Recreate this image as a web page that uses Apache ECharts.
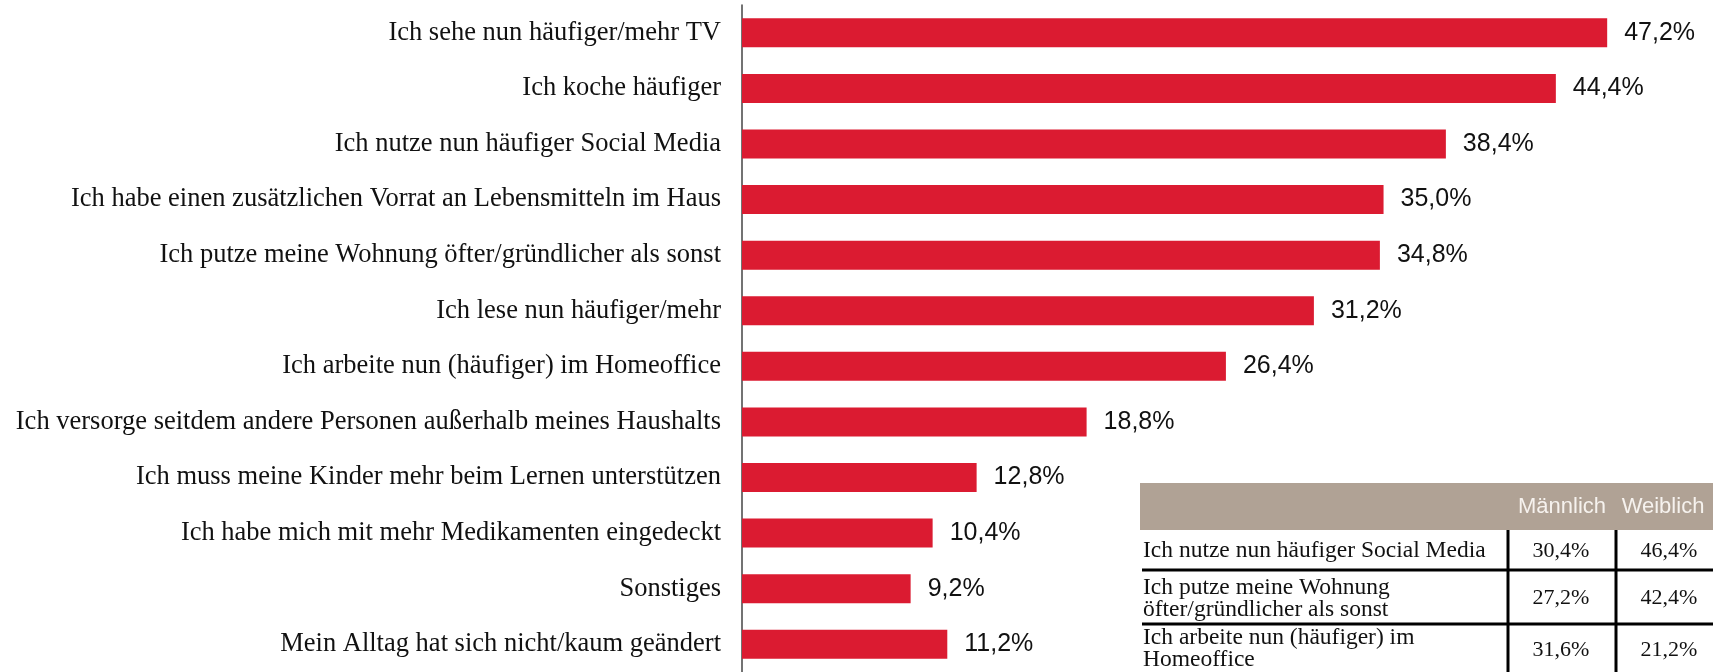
<!DOCTYPE html>
<html>
<head>
<meta charset="utf-8">
<script src="https://cdn.jsdelivr.net/npm/echarts@6/dist/echarts.min.js"></script>
<style>
  html, body { margin: 0; padding: 0; background: #fff; }
  #main { width: 1713px; height: 672px; }
</style>
</head>
<body>
<div id="main"></div>
<script>
// Balkendiagramm: Veränderungen im Alltag
var categories = [
  'Ich sehe nun häufiger/mehr TV',
  'Ich koche häufiger',
  'Ich nutze nun häufiger Social Media',
  'Ich habe einen zusätzlichen Vorrat an Lebensmitteln im Haus',
  'Ich putze meine Wohnung öfter/gründlicher als sonst',
  'Ich lese nun häufiger/mehr',
  'Ich arbeite nun (häufiger) im Homeoffice',
  'Ich versorge seitdem andere Personen außerhalb meines Haushalts',
  'Ich muss meine Kinder mehr beim Lernen unterstützen',
  'Ich habe mich mit mehr Medikamenten eingedeckt',
  'Sonstiges',
  'Mein Alltag hat sich nicht/kaum geändert'
];
var values = [47.2, 44.4, 38.4, 35.0, 34.8, 31.2, 26.4, 18.8, 12.8, 10.4, 9.2, 11.2];

// Tabelle Männlich / Weiblich
var tableHeader = ['Männlich', 'Weiblich'];
var tableRows = [
  'Ich nutze nun häufiger Social Media',
  'Ich putze meine Wohnung\nöfter/gründlicher als sonst',
  'Ich arbeite nun (häufiger) im\nHomeoffice'
];
var maleValues = [30.4, 27.2, 31.6];
var femaleValues = [46.4, 42.4, 21.2];

function fmt(v) {
  return v.toFixed(1).replace('.', ',') + '%';
}

var serif = '"Liberation Serif", "DejaVu Serif", serif';
var sans = '"Liberation Sans", Arial, sans-serif';

// Tabelle als graphic-Elemente
var graphics = [];
graphics.push({
  type: 'rect', shape: { x: 1140, y: 483, width: 573, height: 47 },
  style: { fill: '#B0A295' }, silent: true
});
var headX = [1562, 1663];
for (let i = 0; i < tableHeader.length; i++) {
  graphics.push({
    type: 'text',
    style: {
      text: tableHeader[i], x: headX[i], y: 507,
      fill: '#F6F2EE', font: '22px ' + sans,
      textAlign: 'center', textVerticalAlign: 'middle'
    }
  });
}
var rowY = [551, 599, 649];
var valY = [551, 598, 650];
for (let i = 0; i < tableRows.length; i++) {
  graphics.push({
    type: 'text',
    style: {
      text: tableRows[i], x: 1143, y: rowY[i],
      fill: '#111', font: '23.5px ' + serif, lineHeight: 22,
      textAlign: 'left', textVerticalAlign: 'middle'
    }
  });
  graphics.push({
    type: 'text',
    style: {
      text: fmt(maleValues[i]), x: 1561, y: valY[i],
      fill: '#111', font: '22px ' + serif,
      textAlign: 'center', textVerticalAlign: 'middle'
    }
  });
  graphics.push({
    type: 'text',
    style: {
      text: fmt(femaleValues[i]), x: 1669, y: valY[i],
      fill: '#111', font: '22px ' + serif,
      textAlign: 'center', textVerticalAlign: 'middle'
    }
  });
}
// Trennlinien
[570, 624].forEach(function (y) {
  graphics.push({
    type: 'line', shape: { x1: 1142, y1: y, x2: 1713, y2: y },
    style: { stroke: '#000', lineWidth: 3 }, silent: true
  });
});
[1508, 1616].forEach(function (x) {
  graphics.push({
    type: 'line', shape: { x1: x, y1: 530, x2: x, y2: 672 },
    style: { stroke: '#000', lineWidth: 3 }, silent: true
  });
});

var chart = echarts.init(document.getElementById('main'));
chart.setOption({
  animation: false,
  grid: {
    left: 742,
    top: 5,
    width: 916.5,
    height: 672
  },
  xAxis: {
    type: 'value',
    min: 0,
    max: 50,
    show: false
  },
  yAxis: {
    type: 'category',
    inverse: true,
    data: categories,
    axisLine: { show: true, lineStyle: { color: '#444', width: 1.5 } },
    axisTick: { show: false },
    axisLabel: {
      margin: 21,
      color: '#111',
      fontFamily: serif,
      fontSize: 26.5
    }
  },
  series: [{
    type: 'bar',
    data: values,
    barWidth: 29,
    itemStyle: { color: '#DB1B31' },
    label: {
      show: true,
      position: 'right',
      distance: 17,
      color: '#111',
      fontFamily: sans,
      fontSize: 25,
      formatter: function (p) { return fmt(p.value); }
    }
  }],
  graphic: graphics
});
</script>
</body>
</html>
